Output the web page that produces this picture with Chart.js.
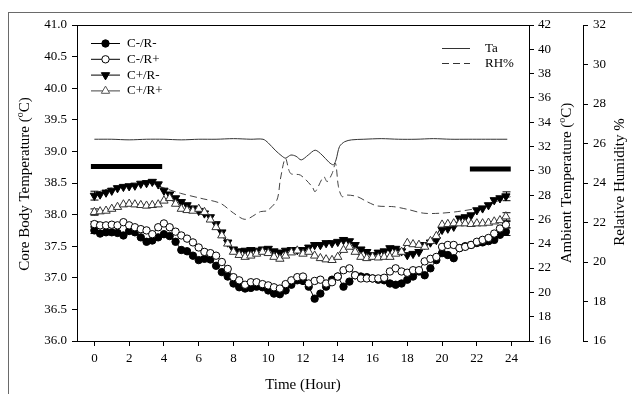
<!DOCTYPE html>
<html><head><meta charset="utf-8">
<script src="https://cdn.jsdelivr.net/npm/chart.js@4/dist/chart.umd.min.js"></script>
<style>
html,body{margin:0;padding:0;background:#fff;overflow:hidden}
#wrap{position:relative;width:632px;height:394px;overflow:hidden}
#frame{position:absolute;left:8px;top:12px;width:700px;height:500px;border:1.5px solid #6a6a6a;box-sizing:border-box}
canvas{position:absolute;left:0;top:0}
</style></head><body>
<div id="wrap"><div id="frame"></div><canvas id="c" width="632" height="394"></canvas></div>
<script>
// ---- data ----
const hours = [0,0.33,0.67,1,1.33,1.67,2,2.33,2.67,3,3.33,3.67,4,4.33,4.67,5,5.33,5.67,6,6.33,6.67,7,7.33,7.67,8,8.33,8.67,9,9.33,9.67,10,10.33,10.67,11,11.33,11.67,12,12.33,12.67,13,13.33,13.67,14,14.33,14.67,15,15.33,15.67,16,16.33,16.67,17,17.33,17.67,18,18.33,18.67,19,19.33,19.67,20,20.33,20.67,21,21.33,21.67,22,22.33,22.67,23,23.33,23.67];

const cmrm = [37.75,37.70,37.72, 37.72,37.71,37.67, 37.74,37.72,37.64, 37.57,37.59,37.64, 37.69,37.66,37.57, 37.44,37.42,37.35, 37.28,37.30,37.29, 37.19,37.09,37.02, 36.91,36.85,36.83, 36.84,36.86,36.85, 36.80,36.75,36.74, 36.80,36.89,36.96, 36.95,36.86,36.67, 36.75,36.86,36.97, 37.02,36.86,36.94, 37.04,37.02,37.01, 36.99,36.97,36.96, 36.91,36.89,36.91, 36.97,37.02,37.10, 37.04,37.15,37.28, 37.39,37.36,37.31, 37.47,37.50,37.52, 37.55,37.56,37.58, 37.60,37.68,37.73];
const cmrp = [37.85,37.83,37.83, 37.84,37.83,37.88, 37.83,37.80,37.77, 37.75,37.69,37.80, 37.86,37.80,37.73, 37.67,37.62,37.56, 37.48,37.41,37.39, 37.35,37.25,37.14, 37.01,36.96,36.89, 36.93,36.93,36.90, 36.88,36.85,36.83, 36.90,36.96,37.01, 37.02,36.91,36.95, 36.97,36.91,36.93, 37.02,37.12,37.15, 37.04,36.99,36.99, 36.99,36.99,37.00, 37.10,37.15,37.10, 37.08,37.12,37.12, 37.26,37.30,37.33, 37.49,37.52,37.52, 37.47,37.49,37.52, 37.57,37.60,37.63, 37.70,37.78,37.84];
const cprm = [38.30,38.32,38.35, 38.38,38.42,38.44, 38.45,38.46,38.49, 38.50,38.52,38.48, 38.38,38.32,38.26, 38.20,38.15,38.10, 38.06,38.02,37.96, 37.85,37.72,37.56, 37.45,37.42,37.43, 37.44,37.43,37.45, 37.46,37.42,37.40, 37.43,37.44,37.44, 37.44,37.48,37.52, 37.52,37.55,37.55, 37.57,37.60,37.58, 37.52,37.45,37.41, 37.36,37.40,37.42, 37.47,37.46,37.42, 37.36,37.38,37.41, 37.52,37.56,37.60, 37.76,37.78,37.81, 37.94,37.96,37.99, 38.07,38.10,38.15, 38.23,38.26,38.29];
const cprp = [38.04,38.05,38.06, 38.09,38.12,38.16, 38.17,38.16,38.15, 38.14,38.15,38.16, 38.22,38.26,38.17, 38.09,38.07,38.06, 38.09,38.04,37.92, 37.80,37.67,37.54, 37.41,37.36,37.33, 37.35,37.38,37.41, 37.39,37.33,37.30, 37.35,37.40,37.43, 37.38,37.41,37.35, 37.31,37.29,37.28, 37.33,37.44,37.49, 37.41,37.33,37.31, 37.33,37.32,37.33, 37.33,37.38,37.41, 37.55,37.53,37.52, 37.49,37.58,37.66, 37.84,37.85,37.86, 37.86,37.86,37.85, 37.86,37.86,37.87, 37.89,37.91,37.97];

// standard errors at first / last point (C-/R-, C-/R+, C+/R-, C+/R+)
const seStart = [0.05, 0.04, 0.07, 0.05];
const seEnd = [0.06, 0.05, 0.07, 0.06];

const taHours = [0,1,2,3,4,5,6,7,8,9,9.7,10.0,10.4,10.8,11.0,11.3,11.6,11.9,12.3,12.7,13.1,13.5,13.75,13.9,14.1,14.4,14.8,15.5,16.5,17.5,18.5,19.5,20.5,21.5,22.5,23.75];
const taValues = [32.6,32.6,32.55,32.6,32.6,32.55,32.6,32.6,32.65,32.6,32.6,32.3,31.7,31.2,31.05,31.3,31.2,30.9,31.3,31.7,31.3,30.7,30.5,30.9,32.0,32.4,32.55,32.6,32.65,32.6,32.6,32.65,32.6,32.6,32.6,32.6];

const rhHours = [0,1,2,3,4,4.95,6.1,7.25,8.0,8.69,9.55,9.94,10.5,10.7,10.99,11.28,11.85,12.53,12.7,13.19,13.39,13.68,13.87,14.04,14.25,14.54,15.12,15.69,16.27,17.22,17.99,18.95,19.9,20.87,22.02,22.6,23.36,23.94];
const rhValues = [23.49,23.75,23.9,24.05,23.75,23.48,23.23,22.97,22.48,22.16,22.55,22.6,23.14,24.2,25.25,24.49,24.4,23.81,23.56,24.32,24.07,24.49,25.0,23.81,23.31,23.39,23.31,23.05,22.84,22.8,22.67,22.47,22.47,22.55,22.72,22.89,23.14,23.31];

// dark-period bars (hours, core temperature level)
const bar1Hours = [-0.2, 3.9];
const bar1Level = [38.76, 38.76];
const bar2Hours = [21.6, 23.95];
const bar2Level = [38.72, 38.72];

const xTicks = [0,2,4,6,8,10,12,14,16,18,20,22,24];
const coreTicks = [36.0,36.5,37.0,37.5,38.0,38.5,39.0,39.5,40.0,40.5,41.0];
const ambTicks = [16,18,20,22,24,26,28,30,32,34,36,38,40,42];
const rhTicks = [16,18,20,22,24,26,28,30,32];

const seriesNames = ['C-/R-','C-/R+','C+/R-','C+/R+'];
const lineNames = ['Ta','RH%'];

// ---- chart ----
const FONT = "'Liberation Serif', 'Times New Roman', serif";
const xy = (xs, ys) => xs.map((x, i) => ({x: x, y: ys[i]}));

const markerSets = [
  {name: seriesNames[3], vals: cprp, style: 'triangle', rot: 0, fill: '#fff', stroke: '#333', r: 4.8, se: [seStart[3], seEnd[3]]},
  {name: seriesNames[2], vals: cprm, style: 'triangle', rot: 180, fill: '#000', stroke: '#000', r: 4.8, se: [seStart[2], seEnd[2]]},
  {name: seriesNames[1], vals: cmrp, style: 'circle', rot: 0, fill: '#fff', stroke: '#000', r: 3.7, se: [seStart[1], seEnd[1]]},
  {name: seriesNames[0], vals: cmrm, style: 'circle', rot: 0, fill: '#000', stroke: '#000', r: 3.7, se: [seStart[0], seEnd[0]]},
];

const datasets = markerSets.map(m => ({
  label: m.name, data: xy(hours, m.vals), yAxisID: 'yL',
  borderColor: '#000', borderWidth: 1, pointStyle: m.style, pointRotation: m.rot,
  pointRadius: m.r, pointBackgroundColor: m.fill, pointBorderColor: m.stroke,
  pointBorderWidth: 1, pointHoverRadius: m.r, tension: 0, se: m.se
}));
datasets.push({label: lineNames[0], data: xy(taHours, taValues), yAxisID: 'yA',
  borderColor: '#333', borderWidth: 1, pointRadius: 0, tension: 0.3});
datasets.push({label: lineNames[1], data: xy(rhHours, rhValues), yAxisID: 'yR',
  borderColor: '#444', borderWidth: 1, borderDash: [7, 4], pointRadius: 0, tension: 0.3});
datasets.push({label: 'bar1', data: xy(bar1Hours, bar1Level), yAxisID: 'yL',
  borderColor: '#000', borderWidth: 5, pointRadius: 0, borderCapStyle: 'butt'});
datasets.push({label: 'bar2', data: xy(bar2Hours, bar2Level), yAxisID: 'yL',
  borderColor: '#000', borderWidth: 5, pointRadius: 0, borderCapStyle: 'butt'});

function setTicks(arr) { return s => { s.ticks = arr.map(v => ({value: v})); }; }
const gridOpts = {display: true, drawOnChartArea: false, drawTicks: true, tickLength: 5, tickColor: '#000', tickWidth: 1};
const borderOpts = {display: true, color: '#000', width: 1};
const tickFont = {family: FONT, size: 13};

function drawMarker(ctx, style, rot, x, y, r, fill, stroke) {
  ctx.save();
  ctx.beginPath();
  if (style === 'circle') {
    ctx.arc(x, y, r, 0, Math.PI * 2);
  } else {
    const a = rot * Math.PI / 180;
    for (let k = 0; k < 3; k++) {
      const ang = a + k * 2 * Math.PI / 3;
      const px = x + Math.sin(ang) * r, py = y - Math.cos(ang) * r;
      if (k === 0) ctx.moveTo(px, py); else ctx.lineTo(px, py);
    }
    ctx.closePath();
  }
  ctx.fillStyle = fill; ctx.fill();
  ctx.strokeStyle = stroke; ctx.lineWidth = 1; ctx.stroke();
  ctx.restore();
}

function vTitle(ctx, x, y, parts) {
  ctx.save();
  ctx.translate(x, y);
  ctx.rotate(-Math.PI / 2);
  ctx.fillStyle = '#000';
  ctx.textBaseline = 'middle';
  ctx.textAlign = 'left';
  const big = "15px " + FONT, small = "10px " + FONT;
  let w = 0;
  parts.forEach(p => { ctx.font = p[1] ? small : big; w += ctx.measureText(p[0]).width; });
  let cx = -w / 2;
  parts.forEach(p => {
    ctx.font = p[1] ? small : big;
    ctx.fillText(p[0], cx, p[1] ? -5 : 0);
    cx += ctx.measureText(p[0]).width;
  });
  ctx.restore();
}

const extras = {
  id: 'extras',
  beforeDatasetsDraw(chart) {
    const ctx = chart.ctx, xs = chart.scales.x, ys = chart.scales.yL;
    ctx.save();
    ctx.strokeStyle = '#000'; ctx.lineWidth = 1;
    chart.data.datasets.forEach(ds => {
      if (!ds.se) return;
      [[0, ds.se[0]], [ds.data.length - 1, ds.se[1]]].forEach(([i, e]) => {
        const p = ds.data[i];
        const px = Math.round(xs.getPixelForValue(p.x)) + 0.5;
        const y1 = ys.getPixelForValue(p.y - e), y2 = ys.getPixelForValue(p.y + e);
        ctx.beginPath();
        ctx.moveTo(px, y1); ctx.lineTo(px, y2);
        ctx.moveTo(px - 4, y1); ctx.lineTo(px + 4, y1);
        ctx.moveTo(px - 4, y2); ctx.lineTo(px + 4, y2);
        ctx.stroke();
      });
    });
    ctx.restore();
  },
  afterDraw(chart) {
    const ctx = chart.ctx, a = chart.chartArea;
    ctx.save();
    ctx.strokeStyle = '#000'; ctx.lineWidth = 1;
    ctx.beginPath(); ctx.moveTo(a.left, Math.round(a.top) + 0.5); ctx.lineTo(a.right, Math.round(a.top) + 0.5); ctx.stroke();
    ctx.font = "13px " + FONT; ctx.fillStyle = '#000'; ctx.textBaseline = 'middle'; ctx.textAlign = 'left';
    const order = [3, 2, 1, 0];
    order.forEach((mi, k) => {
      const m = markerSets[mi];
      const y = 43.5 + k * 15.8;
      ctx.strokeStyle = mi === 0 ? '#444' : '#000'; ctx.lineWidth = 1;
      ctx.beginPath(); ctx.moveTo(91, y); ctx.lineTo(120, y); ctx.stroke();
      drawMarker(ctx, m.style, m.rot, 105.5, y, m.r, m.fill, mi === 0 ? '#555' : m.stroke);
      ctx.fillStyle = '#000';
      ctx.fillText(m.name, 127, y);
    });
    ctx.strokeStyle = '#333'; ctx.lineWidth = 1;
    ctx.beginPath(); ctx.moveTo(442, 48.5); ctx.lineTo(470, 48.5); ctx.stroke();
    ctx.setLineDash([7, 4]);
    ctx.beginPath(); ctx.moveTo(442, 63.5); ctx.lineTo(470, 63.5); ctx.stroke();
    ctx.setLineDash([]);
    ctx.fillText(lineNames[0], 485, 48.5);
    ctx.fillText(lineNames[1], 485, 63.5);
    ctx.restore();
    vTitle(ctx, 25, 184, [['Core Body Temperature (', false], ['o', true], ['C)', false]]);
    vTitle(ctx, 567, 183, [['Ambient Temperature (', false], ['o', true], ['C)', false]]);
    vTitle(ctx, 620, 182, [['Relative Humidity %', false]]);
  }
};

new Chart(document.getElementById('c'), {
  type: 'line',
  data: {datasets: datasets},
  options: {
    responsive: false, animation: false, devicePixelRatio: 1,
    layout: {padding: {left: 10, top: 25, right: 0, bottom: 0}},
    plugins: {legend: {display: false}, tooltip: {enabled: false}},
    elements: {line: {fill: false}},
    scales: {
      x: {type: 'linear', min: -1, max: 25, afterBuildTicks: setTicks(xTicks),
        afterFit: s => { s.height = 53; },
        grid: gridOpts, border: borderOpts,
        ticks: {font: tickFont, color: '#000', padding: 5, maxRotation: 0, callback: v => String(v)},
        title: {display: true, text: 'Time (Hour)', font: {family: FONT, size: 15}, color: '#000', padding: {top: 14, bottom: 0}}},
      yL: {type: 'linear', position: 'left', min: 36, max: 41, afterBuildTicks: setTicks(coreTicks),
        afterFit: s => { s.width = 67; },
        grid: gridOpts, border: borderOpts,
        ticks: {font: tickFont, color: '#000', padding: 5, callback: v => Number(v).toFixed(1)}},
      yA: {type: 'linear', position: 'right', weight: 1, min: 16, max: 42, afterBuildTicks: setTicks(ambTicks),
        afterFit: s => { s.width = 54; },
        grid: gridOpts, border: borderOpts,
        ticks: {font: tickFont, color: '#000', padding: 4, callback: v => String(v)}},
      yR: {type: 'linear', position: 'right', weight: 2, min: 16, max: 32, afterBuildTicks: setTicks(rhTicks),
        afterFit: s => { s.width = 49; },
        grid: gridOpts, border: borderOpts,
        ticks: {font: tickFont, color: '#000', padding: 5, callback: v => String(v)}}
    }
  },
  plugins: [extras]
});
</script></body></html>
